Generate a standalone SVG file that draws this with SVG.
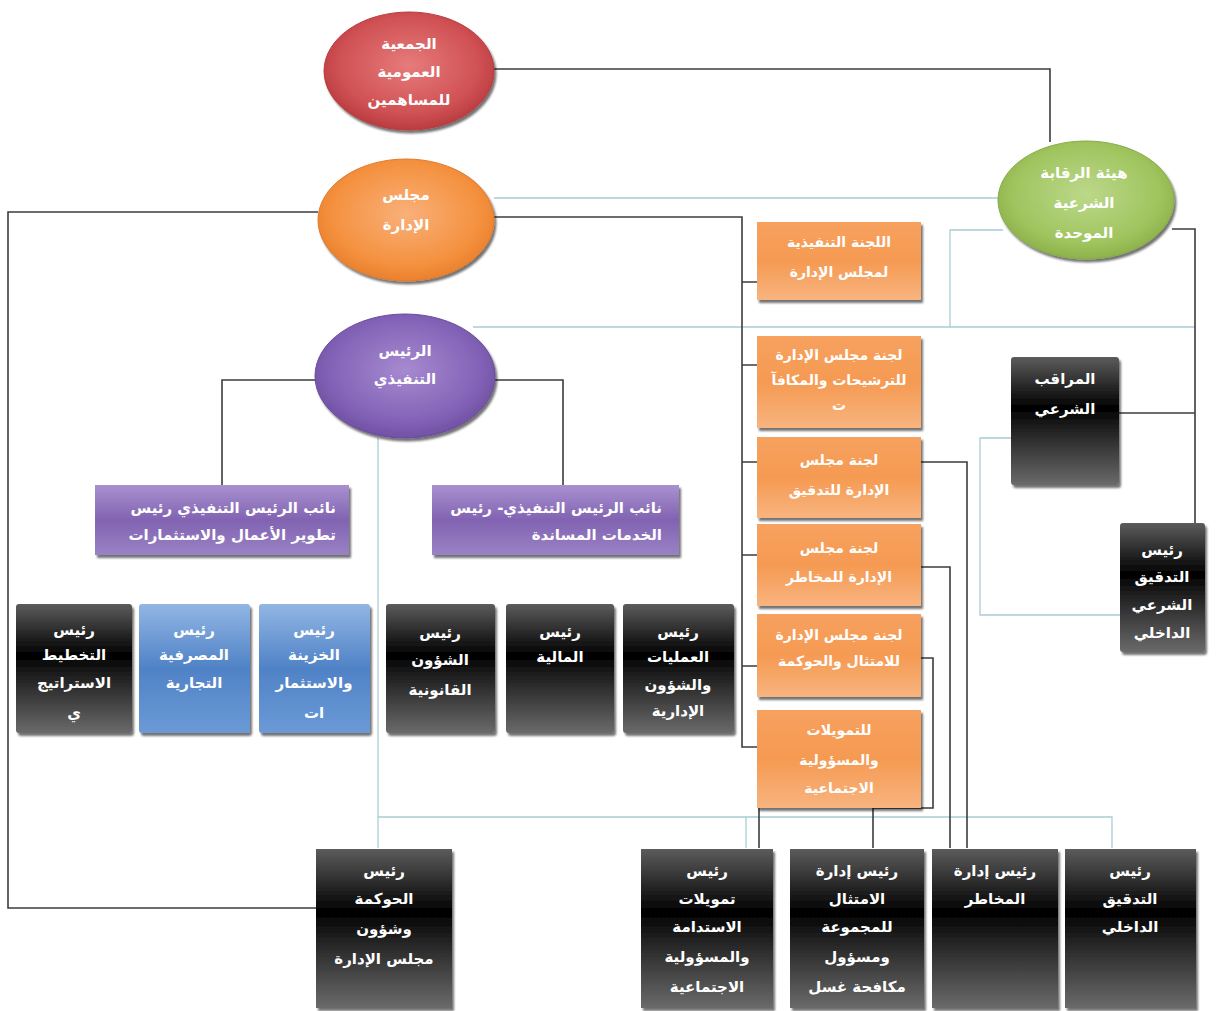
<svg xmlns="http://www.w3.org/2000/svg" width="1222" height="1011" viewBox="0 0 1222 1011">
<defs>
<style>
.t{font-family:"DejaVu Sans",sans-serif;font-weight:bold;fill:#fff;text-anchor:middle;font-size:15px}
.s{font-size:14px}
.tr{font-family:"DejaVu Sans",sans-serif;font-weight:bold;fill:#fff;text-anchor:end;font-size:15px}
.c{fill:none;stroke:#3c3c3c;stroke-width:1.6}
.l{fill:none;stroke:#a9cdd3;stroke-width:1.3}
</style>
<filter id="sh" x="-10%" y="-10%" width="125%" height="125%"><feDropShadow dx="2" dy="3" stdDeviation="1.2" flood-color="#000" flood-opacity="0.55"/></filter>
<radialGradient id="gRed" cx="50%" cy="45%" r="60%"><stop offset="0" stop-color="#e77b7b"/><stop offset="0.7" stop-color="#cf5053"/><stop offset="1" stop-color="#b03438"/></radialGradient>
<radialGradient id="gOra" cx="50%" cy="45%" r="60%"><stop offset="0" stop-color="#f9b07a"/><stop offset="0.7" stop-color="#f4913f"/><stop offset="1" stop-color="#e57a26"/></radialGradient>
<radialGradient id="gPur" cx="50%" cy="45%" r="60%"><stop offset="0" stop-color="#a68ad0"/><stop offset="0.7" stop-color="#8262b6"/><stop offset="1" stop-color="#6a4a9c"/></radialGradient>
<radialGradient id="gGre" cx="50%" cy="45%" r="60%"><stop offset="0" stop-color="#bcd88a"/><stop offset="0.7" stop-color="#9fc45e"/><stop offset="1" stop-color="#86ab45"/></radialGradient>
<linearGradient id="bOra" x1="0" y1="0" x2="0" y2="1"><stop offset="0" stop-color="#f7a15f"/><stop offset="0.5" stop-color="#f59a52"/><stop offset="1" stop-color="#f8b47f"/></linearGradient>
<linearGradient id="bPur" x1="0" y1="0" x2="0" y2="1"><stop offset="0" stop-color="#a991cf"/><stop offset="0.5" stop-color="#8163b2"/><stop offset="1" stop-color="#9a82c4"/></linearGradient>
<linearGradient id="bBlu" x1="0" y1="0" x2="0" y2="1"><stop offset="0" stop-color="#92b6e4"/><stop offset="0.5" stop-color="#4f82c6"/><stop offset="1" stop-color="#6b9ad6"/></linearGradient>
<linearGradient id="bBlk" x1="0" y1="0" x2="0" y2="1"><stop offset="0" stop-color="#5c5c5c"/><stop offset="0.4" stop-color="#000"/><stop offset="0.55" stop-color="#1e1e1e"/><stop offset="1" stop-color="#6a6a6a"/></linearGradient>
</defs>
<rect width="1222" height="1011" fill="#fff"/>

<g id="connectors">
<path class="l" d="M494,198 H1000"/>
<path class="l" d="M473,327 H1195"/>
<path class="l" d="M1003,230 H950 V327"/>
<path class="l" d="M1011,438 H980 V615 H1120"/>
<path class="l" d="M378,438 V848"/>
<path class="l" d="M378,817 H1112 V848"/>
<path class="l" d="M746,817 V848"/>
<path class="c" d="M493,69 H1050 V142"/>
<path class="c" d="M318,212 H8 V908 H316"/>
<path class="c" d="M494,217 H742 V747 H757"/>
<path class="c" d="M742,282 H757 M742,365 H757 M742,462 H757 M742,555 H757 M742,666 H757"/>
<path class="c" d="M316,380 H222 V485"/>
<path class="c" d="M495,380 H563 V485"/>
<path class="c" d="M1172,229 H1195 V523"/>
<path class="c" d="M1118,413 H1195"/>
<path class="c" d="M920,462 H967 V848"/>
<path class="c" d="M920,567 H950 V848"/>
<path class="c" d="M920,658 H933 V808 H873 V848"/>
<path class="c" d="M759,808 V848"/>
</g>

<g id="general-assembly"><ellipse cx="409" cy="71" rx="85" ry="59" fill="url(#gRed)" stroke="#b9393c" filter="url(#sh)"/>
<text class="t" x="409" y="49">الجمعية</text><text class="t" x="409" y="77">العمومية</text><text class="t" x="409" y="105">للمساهمين</text></g>

<g id="board"><ellipse cx="406" cy="220" rx="88" ry="61" fill="url(#gOra)" stroke="#e07a2c" filter="url(#sh)"/>
<text class="t" x="406" y="200">مجلس</text><text class="t" x="406" y="230">الإدارة</text></g>

<g id="ceo"><ellipse cx="405" cy="376" rx="90" ry="62" fill="url(#gPur)" stroke="#6a4a9c" filter="url(#sh)"/>
<text class="t" x="405" y="356">الرئيس</text><text class="t" x="405" y="384">التنفيذي</text></g>

<g id="sharia-board"><ellipse cx="1086" cy="200" rx="88" ry="59" fill="url(#gGre)" stroke="#86ab45" filter="url(#sh)"/>
<text class="t" x="1084" y="178">هيئة الرقابة</text><text class="t" x="1084" y="208">الشرعية</text><text class="t" x="1084" y="238">الموحدة</text></g>

<g id="exec-committee"><rect x="757" y="222" width="164" height="78" fill="url(#bOra)" filter="url(#sh)"/>
<text class="t s" x="839" y="247">اللجنة التنفيذية</text><text class="t s" x="839" y="277">لمجلس الإدارة</text></g>
<g id="nom-committee"><rect x="757" y="336" width="164" height="92" fill="url(#bOra)" filter="url(#sh)"/>
<text class="t s" x="839" y="360">لجنة مجلس الإدارة</text><text class="t s" x="839" y="385">للترشيحات والمكافآ</text><text class="t s" x="839" y="410">ت</text></g>
<g id="audit-committee"><rect x="757" y="437" width="164" height="81" fill="url(#bOra)" filter="url(#sh)"/>
<text class="t s" x="839" y="465">لجنة مجلس</text><text class="t s" x="839" y="495">الإدارة للتدقيق</text></g>
<g id="risk-committee"><rect x="757" y="524" width="164" height="82" fill="url(#bOra)" filter="url(#sh)"/>
<text class="t s" x="839" y="553">لجنة مجلس</text><text class="t s" x="839" y="582">الإدارة للمخاطر</text></g>
<g id="compliance-committee"><rect x="757" y="614" width="164" height="83" fill="url(#bOra)" filter="url(#sh)"/>
<text class="t s" x="839" y="640">لجنة مجلس الإدارة</text><text class="t s" x="839" y="666">للامتثال والحوكمة</text></g>
<g id="csr-committee"><rect x="757" y="710" width="164" height="98" fill="url(#bOra)" filter="url(#sh)"/>
<text class="t s" x="839" y="735">للتمويلات</text><text class="t s" x="839" y="765">والمسؤولية</text><text class="t s" x="839" y="793">الاجتماعية</text></g>

<g id="dceo-business"><rect x="95" y="485" width="254" height="70" fill="url(#bPur)" filter="url(#sh)"/>
<text class="tr" x="336" y="513">نائب الرئيس التنفيذي رئيس</text><text class="tr" x="336" y="540">تطوير الأعمال والاستثمارات</text></g>
<g id="dceo-support"><rect x="432" y="485" width="247" height="70" fill="url(#bPur)" filter="url(#sh)"/>
<text class="tr" x="662" y="513">نائب الرئيس التنفيذي- رئيس</text><text class="tr" x="662" y="540">الخدمات المساندة</text></g>

<g id="strategy"><rect x="16" y="604" width="116" height="129" rx="3" fill="url(#bBlk)" filter="url(#sh)"/>
<text class="t" x="74" y="635">رئيس</text><text class="t" x="74" y="660">التخطيط</text><text class="t" x="74" y="688">الاستراتيج</text><text class="t" x="74" y="718">ي</text></g>
<g id="commercial"><rect x="139" y="604" width="111" height="129" rx="3" fill="url(#bBlu)" filter="url(#sh)"/>
<text class="t" x="194" y="635">رئيس</text><text class="t" x="194" y="660">المصرفية</text><text class="t" x="194" y="688">التجارية</text></g>
<g id="treasury"><rect x="259" y="604" width="111" height="129" rx="3" fill="url(#bBlu)" filter="url(#sh)"/>
<text class="t" x="314" y="635">رئيس</text><text class="t" x="314" y="660">الخزينة</text><text class="t" x="314" y="688">والاستثمار</text><text class="t" x="314" y="718">ات</text></g>
<g id="legal"><rect x="386" y="604" width="109" height="129" rx="3" fill="url(#bBlk)" filter="url(#sh)"/>
<text class="t" x="440" y="638">رئيس</text><text class="t" x="440" y="665">الشؤون</text><text class="t" x="440" y="695">القانونية</text></g>
<g id="finance"><rect x="506" y="604" width="108" height="129" rx="3" fill="url(#bBlk)" filter="url(#sh)"/>
<text class="t" x="560" y="637">رئيس</text><text class="t" x="560" y="662">المالية</text></g>
<g id="operations"><rect x="623" y="604" width="111" height="129" rx="3" fill="url(#bBlk)" filter="url(#sh)"/>
<text class="t" x="678" y="637">رئيس</text><text class="t" x="678" y="662">العمليات</text><text class="t" x="678" y="690">والشؤون</text><text class="t" x="678" y="716">الإدارية</text></g>

<g id="sharia-observer"><rect x="1011" y="357" width="108" height="128" rx="3" fill="url(#bBlk)" filter="url(#sh)"/>
<text class="t" x="1065" y="384">المراقب</text><text class="t" x="1065" y="414">الشرعي</text></g>
<g id="sharia-audit"><rect x="1120" y="523" width="85" height="129" rx="3" fill="url(#bBlk)" filter="url(#sh)"/>
<text class="t" x="1162" y="555">رئيس</text><text class="t" x="1162" y="582">التدقيق</text><text class="t" x="1162" y="610">الشرعي</text><text class="t" x="1162" y="638">الداخلي</text></g>

<g id="governance"><rect x="316" y="849" width="136" height="159" fill="url(#bBlk)" filter="url(#sh)"/>
<text class="t" x="384" y="876">رئيس</text><text class="t" x="384" y="904">الحوكمة</text><text class="t" x="384" y="934">وشؤون</text><text class="t" x="384" y="964">مجلس الإدارة</text></g>
<g id="sustainability"><rect x="641" y="849" width="132" height="159" fill="url(#bBlk)" filter="url(#sh)"/>
<text class="t" x="707" y="876">رئيس</text><text class="t" x="707" y="904">تمويلات</text><text class="t" x="707" y="932">الاستدامة</text><text class="t" x="707" y="962">والمسؤولية</text><text class="t" x="707" y="992">الاجتماعية</text></g>
<g id="compliance"><rect x="790" y="849" width="134" height="159" fill="url(#bBlk)" filter="url(#sh)"/>
<text class="t" x="857" y="876">رئيس إدارة</text><text class="t" x="857" y="904">الامتثال</text><text class="t" x="857" y="932">للمجموعة</text><text class="t" x="857" y="962">ومسؤول</text><text class="t" x="857" y="992">مكافحة غسل</text></g>
<g id="risk"><rect x="932" y="849" width="126" height="159" fill="url(#bBlk)" filter="url(#sh)"/>
<text class="t" x="995" y="876">رئيس إدارة</text><text class="t" x="995" y="904">المخاطر</text></g>
<g id="internal-audit"><rect x="1065" y="849" width="131" height="159" fill="url(#bBlk)" filter="url(#sh)"/>
<text class="t" x="1130" y="876">رئيس</text><text class="t" x="1130" y="904">التدقيق</text><text class="t" x="1130" y="932">الداخلي</text></g>
</svg>
